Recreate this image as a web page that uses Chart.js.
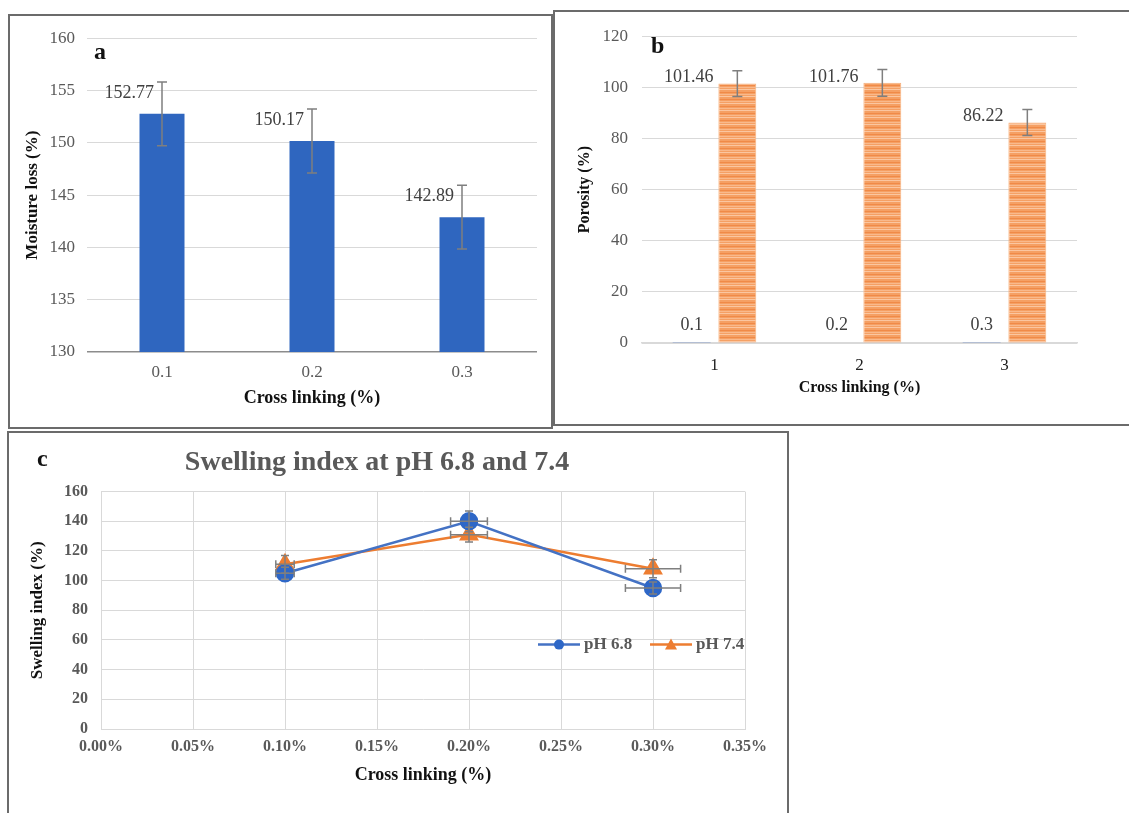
<!DOCTYPE html>
<html>
<head>
    <title>Moisture loss, porosity and swelling index</title>
    <script src="https://cdn.jsdelivr.net/npm/chart.js"></script>
    <style>
        body {
            margin: 0;
            background: #fff;
            width: 1129px;
            height: 813px;
            overflow: hidden;
            position: relative;
            font-family: 'Liberation Serif', 'Times New Roman', serif;
        }

        .panel {
            position: absolute;
            box-sizing: border-box;
            border: 2px solid #6b6b6b;
            background: #fff;
        }

        .panel canvas {
            display: block;
        }

        .tag {
            position: absolute;
            font-weight: bold;
            font-size: 24px;
            color: #111;
        }

        #panelA { left: 8px; top: 14px; width: 545px; height: 415px; }
        #panelB { left: 553px; top: 10px; width: 580px; height: 416px; }
        #panelC { left: 7px; top: 431px; width: 782px; height: 399px; }
    </style>
</head>
<body>
    <div class="panel" id="panelA">
        <canvas id="moistureChart" width="541" height="411"></canvas>
        <span class="tag" style="left:84px; top:22px;">a</span>
    </div>
    <div class="panel" id="panelB">
        <canvas id="porosityChart" width="576" height="412"></canvas>
        <span class="tag" style="left:96px; top:20px;">b</span>
    </div>
    <div class="panel" id="panelC">
        <canvas id="swellingChart" width="778" height="395"></canvas>
        <span class="tag" style="left:28px; top:12px;">c</span>
    </div>

    <script>
        // ---- data ----
        const moistureCats = ['0.1', '0.2', '0.3'];
        const moistureVals = [152.77, 150.17, 142.89];
        const moistureErr = [3.05, 3.05, 3.05];

        const porosityCats = ['1', '2', '3'];
        const crossLinkVals = [0.1, 0.2, 0.3];
        const porosityVals = [101.46, 101.76, 86.22];
        const porosityErr = [5, 5.2, 5.1];

        const crossLinkPct = [0.10, 0.20, 0.30];
        const swell68 = [105, 140, 95];
        const swell74 = [111, 131, 108];
        const swell68YErr = [4, 7, 4];
        const swell74YErr = [6, 5, 6];
        const swellXErr = [0.005, 0.01, 0.015];

        const SERIF = "'Liberation Serif', 'Times New Roman', serif";
        const GRID = '#d9d9d9';
        const TICK = '#595959';

        Chart.defaults.font.family = SERIF;
        Chart.defaults.animation = false;

        // error bars drawn from dataset.yErr / dataset.xErr
        const errorBars = {
            id: 'errorBars',
            afterDatasetsDraw(chart) {
                const ctx = chart.ctx;
                chart.data.datasets.forEach((ds, i) => {
                    if (!ds.yErr && !ds.xErr) return;
                    const meta = chart.getDatasetMeta(i);
                    const xs = chart.scales[meta.xAxisID];
                    const ys = chart.scales[meta.yAxisID];
                    const cap = ds.errCap || 5;
                    ctx.save();
                    ctx.strokeStyle = '#7f7f7f';
                    ctx.lineWidth = 1.5;
                    meta.data.forEach((el, j) => {
                        const raw = ds.data[j];
                        const v = typeof raw === 'object' ? raw.y : raw;
                        ctx.beginPath();
                        if (ds.yErr) {
                            const y1 = ys.getPixelForValue(v + ds.yErr[j]);
                            const y2 = ys.getPixelForValue(v - ds.yErr[j]);
                            ctx.moveTo(el.x, y1); ctx.lineTo(el.x, y2);
                            ctx.moveTo(el.x - cap, y1); ctx.lineTo(el.x + cap, y1);
                            ctx.moveTo(el.x - cap, y2); ctx.lineTo(el.x + cap, y2);
                        }
                        if (ds.xErr) {
                            const x1 = xs.getPixelForValue(raw.x - ds.xErr[j]);
                            const x2 = xs.getPixelForValue(raw.x + ds.xErr[j]);
                            ctx.moveTo(x1, el.y); ctx.lineTo(x2, el.y);
                            ctx.moveTo(x1, el.y - cap); ctx.lineTo(x1, el.y + cap);
                            ctx.moveTo(x2, el.y - cap); ctx.lineTo(x2, el.y + cap);
                        }
                        ctx.stroke();
                    });
                    ctx.restore();
                });
            }
        };

        // value labels, placed by dataset.labelAt(el) -> [x, y, align]
        const valueLabels = {
            id: 'valueLabels',
            afterDatasetsDraw(chart) {
                const ctx = chart.ctx;
                chart.data.datasets.forEach((ds, i) => {
                    if (!ds.labelAt) return;
                    const meta = chart.getDatasetMeta(i);
                    ctx.save();
                    ctx.font = '18px ' + SERIF;
                    ctx.fillStyle = '#404040';
                    ctx.textBaseline = 'middle';
                    meta.data.forEach((el, j) => {
                        const [x, y, align] = ds.labelAt(el);
                        ctx.textAlign = align;
                        ctx.fillText(String(ds.data[j]), x, y);
                    });
                    ctx.restore();
                });
            }
        };

        function stripes() {
            const c = document.createElement('canvas');
            c.width = 4; c.height = 7;
            const g = c.getContext('2d');
            g.fillStyle = '#f5a064'; g.fillRect(0, 0, 4, 7);
            g.fillStyle = '#fbc6a0'; g.fillRect(0, 0, 4, 1);
            g.fillStyle = '#f08a48'; g.fillRect(0, 3, 4, 1);
            g.fillStyle = '#f9b98c'; g.fillRect(0, 5, 4, 1);
            return g.createPattern(c, 'repeat');
        }

        // ---- a: moisture loss ----
        new Chart(document.getElementById('moistureChart'), {
            type: 'bar',
            data: {
                labels: moistureCats,
                datasets: [{
                    data: moistureVals,
                    yErr: moistureErr,
                    errCap: 5,
                    backgroundColor: '#2f66bf',
                    categoryPercentage: 1,
                    barPercentage: 0.3,
                    labelAt: el => [el.x - 8, el.y - 21, 'right']
                }]
            },
            options: {
                responsive: false,
                layout: { padding: { left: 0, top: 19, right: 14, bottom: 0 } },
                plugins: { legend: { display: false }, tooltip: { enabled: false } },
                scales: {
                    x: {
                        afterFit: s => { s.height = 75; },
                        grid: { display: false },
                        border: { display: false },
                        ticks: { color: TICK, font: { size: 17 }, padding: 2 },
                        title: {
                            display: true, text: 'Cross linking (%)', color: '#111',
                            font: { size: 18, weight: 'bold' }, padding: { top: 0, bottom: 18 }
                        }
                    },
                    y: {
                        min: 130, max: 160,
                        afterFit: s => { s.width = 77; },
                        grid: {
                            drawTicks: false,
                            color: c => c.tick && c.tick.value === 130 ? '#8c8c8c' : GRID,
                            lineWidth: c => c.tick && c.tick.value === 130 ? 1.5 : 1
                        },
                        border: { display: false },
                        ticks: { stepSize: 5, color: TICK, font: { size: 17 }, padding: 12 },
                        title: {
                            display: true, text: 'Moisture loss (%)', color: '#111',
                            font: { size: 17, weight: 'bold' }, padding: { top: 12, bottom: 0 }
                        }
                    }
                }
            },
            plugins: [errorBars, valueLabels]
        });

        // ---- b: porosity ----
        new Chart(document.getElementById('porosityChart'), {
            type: 'bar',
            data: {
                labels: porosityCats,
                datasets: [{
                    data: crossLinkVals,
                    backgroundColor: '#4472c4',
                    categoryPercentage: 0.63,
                    barPercentage: 0.83,
                    labelAt: el => [el.x, el.y - 17, 'center']
                }, {
                    data: porosityVals,
                    yErr: porosityErr,
                    errCap: 5,
                    backgroundColor: stripes(),
                    borderColor: '#f7b07c',
                    borderWidth: 1,
                    categoryPercentage: 0.63,
                    barPercentage: 0.83,
                    labelAt: el => [el.x - el.width / 2 - 5, el.y - 6, 'right']
                }]
            },
            options: {
                responsive: false,
                layout: { padding: { left: 0, top: 21, right: 54, bottom: 0 } },
                plugins: { legend: { display: false }, tooltip: { enabled: false } },
                scales: {
                    x: {
                        afterFit: s => { s.height = 81; },
                        grid: { display: false },
                        border: { color: GRID, width: 1.5 },
                        ticks: { color: '#222', font: { size: 17 }, padding: 4 },
                        title: {
                            display: true, text: 'Cross linking (%)', color: '#111',
                            font: { size: 16, weight: 'bold' }, padding: { top: 0, bottom: 27 }
                        }
                    },
                    y: {
                        min: 0, max: 120,
                        afterFit: s => { s.width = 87; },
                        grid: { drawTicks: false, color: GRID },
                        border: { display: false },
                        ticks: { stepSize: 20, color: TICK, font: { size: 17 }, padding: 14 },
                        title: {
                            display: true, text: 'Porosity (%)', color: '#111',
                            font: { size: 16, weight: 'bold' }, padding: { top: 20, bottom: 0 }
                        }
                    }
                }
            },
            plugins: [errorBars, valueLabels]
        });

        // ---- c: swelling index ----
        const swellLegend = {
            id: 'swellLegend',
            afterDraw(chart) {
                const { ctx, chartArea } = chart;
                const y = chartArea.top + 153;
                const x0 = chartArea.right - 207;
                const items = [
                    { label: 'pH 6.8', color: '#4472c4', fill: '#2e67c7', shape: 'circle', x: x0 },
                    { label: 'pH 7.4', color: '#ed7d31', fill: '#ed7d31', shape: 'triangle', x: x0 + 112 }
                ];
                ctx.save();
                items.forEach(it => {
                    ctx.strokeStyle = it.color;
                    ctx.lineWidth = 2.5;
                    ctx.beginPath();
                    ctx.moveTo(it.x, y); ctx.lineTo(it.x + 42, y);
                    ctx.stroke();
                    ctx.fillStyle = it.fill;
                    ctx.beginPath();
                    if (it.shape === 'circle') {
                        ctx.arc(it.x + 21, y, 5, 0, Math.PI * 2);
                    } else {
                        ctx.moveTo(it.x + 21, y - 6);
                        ctx.lineTo(it.x + 27, y + 5);
                        ctx.lineTo(it.x + 15, y + 5);
                        ctx.closePath();
                    }
                    ctx.fill();
                    ctx.fillStyle = TICK;
                    ctx.font = 'bold 17px ' + SERIF;
                    ctx.textAlign = 'left';
                    ctx.textBaseline = 'middle';
                    ctx.fillText(it.label, it.x + 46, y);
                });
                ctx.restore();
            }
        };

        new Chart(document.getElementById('swellingChart'), {
            type: 'line',
            data: {
                datasets: [{
                    label: 'pH 6.8',
                    data: crossLinkPct.map((x, i) => ({ x: x, y: swell68[i] })),
                    yErr: swell68YErr,
                    xErr: swellXErr,
                    errCap: 4,
                    borderColor: '#4472c4',
                    backgroundColor: '#2e67c7',
                    pointBackgroundColor: '#2e67c7',
                    pointBorderColor: '#2e67c7',
                    pointStyle: 'circle',
                    pointRadius: 8,
                    borderWidth: 2.5
                }, {
                    label: 'pH 7.4',
                    data: crossLinkPct.map((x, i) => ({ x: x, y: swell74[i] })),
                    yErr: swell74YErr,
                    xErr: swellXErr,
                    errCap: 4,
                    borderColor: '#ed7d31',
                    backgroundColor: '#ed7d31',
                    pointBackgroundColor: '#ed7d31',
                    pointBorderColor: '#ed7d31',
                    pointStyle: 'triangle',
                    pointRadius: 9,
                    borderWidth: 2.5
                }]
            },
            options: {
                responsive: false,
                layout: { padding: { left: 0, top: 0, right: 42, bottom: 0 } },
                plugins: {
                    legend: { display: false },
                    tooltip: { enabled: false },
                    title: {
                        display: true,
                        text: 'Swelling index at pH 6.8 and 7.4',
                        color: TICK,
                        font: { size: 28, weight: 'bold' },
                        padding: { top: 13, bottom: 12 }
                    }
                },
                scales: {
                    x: {
                        type: 'linear', min: 0, max: 0.35,
                        afterFit: s => { s.height = 99; },
                        grid: { drawTicks: false, color: GRID },
                        border: { color: GRID },
                        ticks: {
                            stepSize: 0.05, color: TICK, font: { size: 16, weight: 'bold' }, padding: 8,
                            callback: v => v.toFixed(2) + '%'
                        },
                        title: {
                            display: true, text: 'Cross linking (%)', color: '#111',
                            font: { size: 18, weight: 'bold' }, padding: { top: 0, bottom: 42 }
                        }
                    },
                    y: {
                        min: 0, max: 160,
                        afterFit: s => { s.width = 92; },
                        grid: { drawTicks: false, color: GRID },
                        border: { color: GRID },
                        ticks: { stepSize: 20, color: TICK, font: { size: 16, weight: 'bold' }, padding: 13 },
                        title: {
                            display: true, text: 'Swelling index (%)', color: '#111',
                            font: { size: 17, weight: 'bold' }, padding: { top: 18, bottom: 0 }
                        }
                    }
                }
            },
            plugins: [errorBars, swellLegend]
        });
    </script>
</body>
</html>
